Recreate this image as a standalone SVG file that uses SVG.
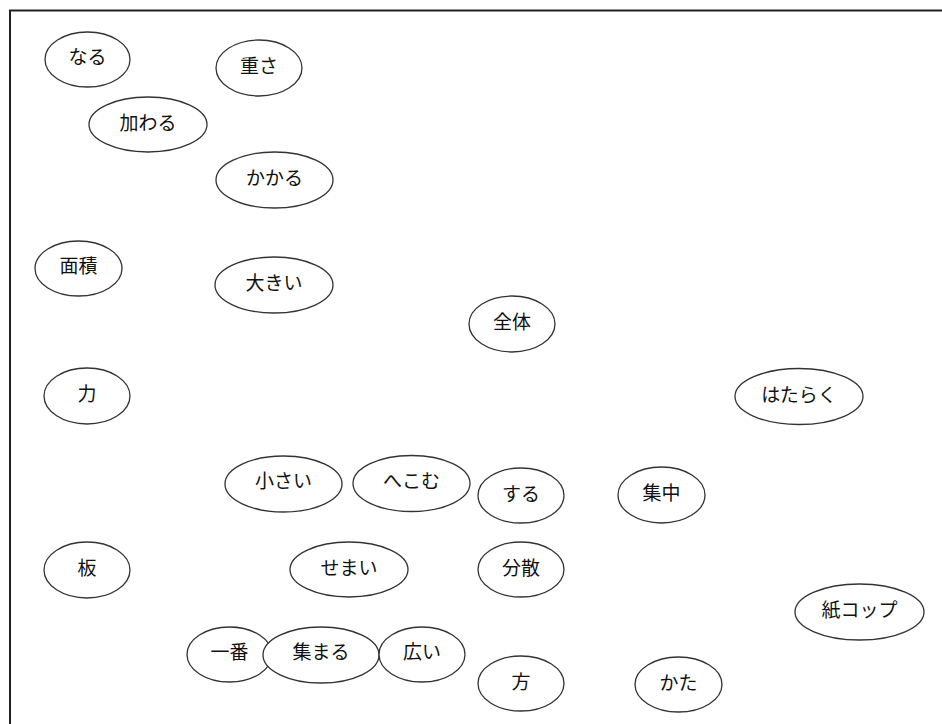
<svg xmlns="http://www.w3.org/2000/svg" width="942" height="724" viewBox="0 0 942 724">
<style>
.n ellipse{fill:#fff;stroke:#333;stroke-width:1.3}
.n text{font-family:"Noto Sans CJK JP","Noto Sans CJK SC",sans-serif;font-size:19px;fill:#111;text-anchor:middle}
</style>
<rect width="942" height="724" fill="#fff"/>
<path d="M10,724 V10.5 H942" fill="none" stroke="#222" stroke-width="2"/>
<g id="connectors"></g>
<g class="n" id="n-naru"><ellipse cx="87.5" cy="59.5" rx="42.5" ry="27.5"/><text x="87.5" y="64">なる</text></g>
<g class="n" id="n-omosa"><ellipse cx="259" cy="68" rx="43" ry="28"/><text x="259" y="73">重さ</text></g>
<g class="n" id="n-kuwawaru"><ellipse cx="148" cy="124.5" rx="59" ry="27.5"/><text x="148" y="130">加わる</text></g>
<g class="n" id="n-kakaru"><ellipse cx="274.5" cy="180" rx="58.5" ry="28"/><text x="274.5" y="185">かかる</text></g>
<g class="n" id="n-menseki"><ellipse cx="78.5" cy="268.5" rx="43.5" ry="27.5"/><text x="78.5" y="273">面積</text></g>
<g class="n" id="n-ookii"><ellipse cx="274" cy="285" rx="59" ry="28"/><text x="274" y="290">大きい</text></g>
<g class="n" id="n-zentai"><ellipse cx="512" cy="324" rx="43" ry="28"/><text x="512" y="329">全体</text></g>
<g class="n" id="n-chikara"><ellipse cx="87" cy="396" rx="43" ry="28"/><text x="87" y="401">力</text></g>
<g class="n" id="n-hataraku"><ellipse cx="799" cy="396.5" rx="64" ry="28"/><text x="799" y="402">はたらく</text></g>
<g class="n" id="n-chiisai"><ellipse cx="283.5" cy="484" rx="58.5" ry="28"/><text x="283.5" y="488">小さい</text></g>
<g class="n" id="n-hekomu"><ellipse cx="411.5" cy="483.5" rx="58.5" ry="28"/><text x="411.5" y="488">へこむ</text></g>
<g class="n" id="n-suru"><ellipse cx="521" cy="495.5" rx="43" ry="27.5"/><text x="521" y="501">する</text></g>
<g class="n" id="n-shuchu"><ellipse cx="661.5" cy="495" rx="43.5" ry="28"/><text x="661.5" y="500">集中</text></g>
<g class="n" id="n-ita"><ellipse cx="87" cy="570" rx="43" ry="28"/><text x="87" y="575">板</text></g>
<g class="n" id="n-semai"><ellipse cx="349" cy="569.5" rx="59" ry="27.5"/><text x="349" y="575">せまい</text></g>
<g class="n" id="n-bunsan"><ellipse cx="521" cy="569.5" rx="43" ry="27.5"/><text x="521" y="575">分散</text></g>
<g class="n" id="n-kamicup"><ellipse cx="859.5" cy="612" rx="64.5" ry="28"/><text x="859.5" y="617">紙コップ</text></g>
<g class="n" id="n-ichiban"><ellipse cx="229.5" cy="654.5" rx="42.5" ry="27.5"/><text x="229.5" y="659">一番</text></g>
<g class="n" id="n-atsumaru"><ellipse cx="321" cy="655" rx="58" ry="28"/><text x="321" y="659">集まる</text></g>
<g class="n" id="n-hiroi"><ellipse cx="422" cy="654.5" rx="43" ry="27.5"/><text x="422" y="659">広い</text></g>
<g class="n" id="n-hou"><ellipse cx="521" cy="683.5" rx="43" ry="27.5"/><text x="521" y="689">方</text></g>
<g class="n" id="n-kata"><ellipse cx="678.5" cy="684.5" rx="43.5" ry="27.5"/><text x="678.5" y="690">かた</text></g>
</svg>
